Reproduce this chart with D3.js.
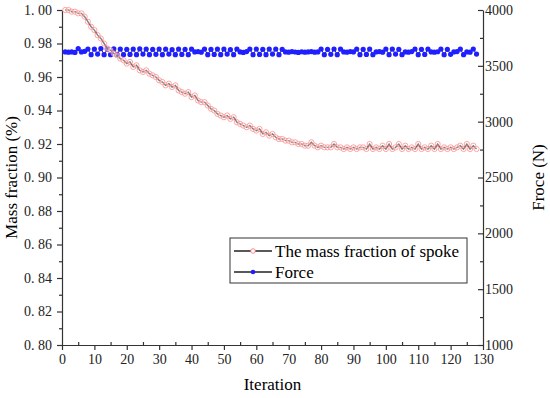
<!DOCTYPE html>
<html>
<head>
<meta charset="utf-8">
<script src="https://cdn.jsdelivr.net/npm/d3@7"></script>
<style>
  body { margin: 0; background: #fff; }
  svg { font-family: "Liberation Serif", "Times New Roman", serif; }
</style>
</head>
<body>
<div id="chart"></div>
<script>
// iterations 1..128
var iterations = d3.range(1, 129);

// mass fraction of spoke, one value per iteration
var massFraction = [
    1.000, 1.000, 0.999, 0.999, 0.998, 0.998, 0.996, 0.993, 0.990, 0.988,
    0.985, 0.983, 0.980, 0.977, 0.976, 0.974, 0.973, 0.971, 0.970, 0.968,
    0.969, 0.966, 0.967, 0.964, 0.963, 0.964, 0.962, 0.961, 0.960, 0.958,
    0.957, 0.955, 0.956, 0.954, 0.955, 0.952, 0.951, 0.950, 0.951, 0.948,
    0.949, 0.946, 0.945, 0.945, 0.943, 0.941, 0.940, 0.938, 0.937, 0.936,
    0.937, 0.935, 0.936, 0.933, 0.932, 0.931, 0.930, 0.931, 0.929, 0.928,
    0.929, 0.926, 0.927, 0.925, 0.926, 0.924, 0.923, 0.923, 0.922, 0.922,
    0.921, 0.921, 0.920, 0.920, 0.919, 0.919, 0.921, 0.919, 0.918, 0.919,
    0.918, 0.918, 0.918, 0.920, 0.918, 0.918, 0.917, 0.918, 0.917, 0.918,
    0.917, 0.918, 0.918, 0.917, 0.920, 0.917, 0.918, 0.917, 0.919, 0.917,
    0.920, 0.917, 0.918, 0.920, 0.917, 0.919, 0.917, 0.918, 0.917, 0.920,
    0.917, 0.918, 0.917, 0.919, 0.917, 0.920, 0.917, 0.918, 0.917, 0.918,
    0.917, 0.918, 0.919, 0.917, 0.920, 0.917, 0.919, 0.917
];

// force (N), one value per iteration
var force = [
    3625, 3622, 3625, 3620, 3655, 3625, 3630, 3650, 3600, 3650,
    3605, 3655, 3600, 3650, 3600, 3652, 3602, 3650, 3600, 3648,
    3602, 3650, 3600, 3652, 3605, 3650, 3600, 3648, 3603, 3650,
    3600, 3650, 3605, 3645, 3600, 3650, 3602, 3648, 3600, 3650,
    3625, 3628, 3622, 3650, 3600, 3648, 3602, 3650, 3600, 3650,
    3605, 3645, 3600, 3650, 3625, 3620, 3628, 3650, 3600, 3650,
    3602, 3648, 3600, 3650, 3605, 3650, 3600, 3648, 3625, 3622,
    3628, 3624, 3620, 3626, 3622, 3625, 3628, 3622, 3625, 3650,
    3600, 3648, 3603, 3650, 3600, 3650, 3625, 3622, 3628, 3625,
    3650, 3600, 3648, 3602, 3650, 3600, 3625, 3628, 3622, 3650,
    3600, 3650, 3605, 3648, 3600, 3625, 3622, 3628, 3650, 3600,
    3648, 3602, 3650, 3625, 3622, 3626, 3650, 3600, 3648, 3603,
    3625, 3628, 3650, 3600, 3625, 3622, 3650, 3605
];

var xTicks = d3.range(0, 131, 10);
var yLeftTicks = [0.80, 0.82, 0.84, 0.86, 0.88, 0.90, 0.92, 0.94, 0.96, 0.98, 1.00];
var yRightTicks = [1000, 1500, 2000, 2500, 3000, 3500, 4000];

var legendLabels = ["The mass fraction of spoke", "Force"];

var w = 550, h = 398;
var mLeft = 62, mRight = 483, mTop = 10, mBottom = 345;

var svg = d3.select("#chart")
    .append("svg")
    .attr("width", w)
    .attr("height", h);

var x = d3.scaleLinear().domain([0, 130]).range([mLeft, mRight]);
var yL = d3.scaleLinear().domain([0.80, 1.00]).range([mBottom, mTop]);
var yR = d3.scaleLinear().domain([1000, 4000]).range([mBottom, mTop]);

// labels like "0. 80"
var fmtL = function(d) { return d3.format(".2f")(d).replace(".", ".\u00a0"); };

// minor ticks
svg.append("g")
    .attr("class", "minor")
    .attr("transform", "translate(0," + mBottom + ")")
    .call(d3.axisBottom(x).tickValues(d3.range(5, 130, 10)).tickSize(-3).tickFormat(""))
    .call(function(g) { g.select(".domain").remove(); });
svg.append("g")
    .attr("class", "minor")
    .attr("transform", "translate(" + mLeft + ",0)")
    .call(d3.axisLeft(yL).tickValues([0.81, 0.83, 0.85, 0.87, 0.89, 0.91, 0.93, 0.95, 0.97, 0.99]).tickSize(3).tickFormat(""))
    .call(function(g) { g.select(".domain").remove(); });
svg.append("g")
    .attr("class", "minor")
    .attr("transform", "translate(" + mRight + ",0)")
    .call(d3.axisRight(yR).tickValues([1250, 1750, 2250, 2750, 3250, 3750]).tickSize(-3).tickFormat(""))
    .call(function(g) { g.select(".domain").remove(); });

// major axes
svg.append("g")
    .attr("class", "axis")
    .attr("transform", "translate(0," + mBottom + ")")
    .call(d3.axisBottom(x).tickValues(xTicks).tickSize(5).tickSizeOuter(0).tickPadding(4));

svg.append("g")
    .attr("class", "axis")
    .attr("transform", "translate(" + mLeft + ",0)")
    .call(d3.axisLeft(yL).tickValues(yLeftTicks).tickFormat(fmtL).tickSize(5).tickSizeOuter(0).tickPadding(5));

svg.append("g")
    .attr("class", "axis")
    .attr("transform", "translate(" + mRight + ",0)")
    .call(d3.axisRight(yR).tickValues(yRightTicks).tickFormat(d3.format("d")).tickSize(-5).tickSizeOuter(0).tickPadding(2));

svg.selectAll(".axis, .minor")
    .attr("font-family", null)
    .attr("font-size", null);
svg.selectAll(".axis text")
    .style("font-size", "14px")
    .style("font-family", "'Liberation Serif', 'Times New Roman', serif")
    .attr("fill", "#222");
svg.selectAll(".axis line, .minor line, .axis .domain")
    .attr("stroke", "#333")
    .attr("stroke-width", 1.2);

// force series
var forceData = iterations.map(function(it, i) { return { it: it, v: force[i] }; });
svg.append("path")
    .datum(forceData)
    .attr("fill", "none")
    .attr("stroke", "#333")
    .attr("stroke-width", 1)
    .attr("d", d3.line().x(function(d) { return x(d.it); }).y(function(d) { return yR(d.v); }));
svg.selectAll(".fdot")
    .data(forceData)
    .enter()
    .append("circle")
    .attr("class", "fdot")
    .attr("cx", function(d) { return x(d.it); })
    .attr("cy", function(d) { return yR(d.v); })
    .attr("r", 2.6)
    .attr("fill", "#1f1fff");

// mass fraction series
var massData = iterations.map(function(it, i) { return { it: it, v: massFraction[i] }; });
svg.append("path")
    .datum(massData)
    .attr("fill", "none")
    .attr("stroke", "#000")
    .attr("stroke-width", 1.4)
    .attr("d", d3.line().x(function(d) { return x(d.it); }).y(function(d) { return yL(d.v); }));
svg.selectAll(".mdot")
    .data(massData)
    .enter()
    .append("circle")
    .attr("class", "mdot")
    .attr("cx", function(d) { return x(d.it); })
    .attr("cy", function(d) { return yL(d.v); })
    .attr("r", 2.6)
    .attr("fill", "#fff")
    .attr("fill-opacity", 0.5)
    .attr("stroke", "#ff8080")
    .attr("stroke-width", 0.7);

// axis titles
svg.append("text")
    .attr("x", (mLeft + mRight) / 2)
    .attr("y", 390)
    .attr("text-anchor", "middle")
    .attr("font-size", "17px")
    .text("Iteration");
svg.append("text")
    .attr("transform", "translate(17," + ((mTop + mBottom) / 2) + ") rotate(-90)")
    .attr("text-anchor", "middle")
    .attr("font-size", "17px")
    .text("Mass fraction (%)");
svg.append("text")
    .attr("transform", "translate(544," + ((mTop + mBottom) / 2) + ") rotate(-90)")
    .attr("text-anchor", "middle")
    .attr("font-size", "17px")
    .text("Froce (N)");

// legend
var lg = svg.append("g").attr("transform", "translate(230,238)");
lg.append("rect")
    .attr("width", 237)
    .attr("height", 45)
    .attr("fill", "#fff")
    .attr("stroke", "#333")
    .attr("stroke-width", 1);
lg.selectAll(".lline")
    .data(legendLabels)
    .enter()
    .append("line")
    .attr("x1", 4).attr("x2", 42)
    .attr("y1", function(d, i) { return 13 + i * 21; })
    .attr("y2", function(d, i) { return 13 + i * 21; })
    .attr("stroke", "#222")
    .attr("stroke-width", 1.3);
lg.append("circle")
    .attr("cx", 23).attr("cy", 13).attr("r", 2.3)
    .attr("fill", "#fff").attr("stroke", "#ff7070").attr("stroke-width", 0.8);
lg.append("circle")
    .attr("cx", 23).attr("cy", 34).attr("r", 2.3)
    .attr("fill", "#1f1fff");
lg.selectAll(".ltext")
    .data(legendLabels)
    .enter()
    .append("text")
    .attr("x", 45)
    .attr("y", function(d, i) { return 19 + i * 21; })
    .attr("font-size", "17px")
    .text(function(d) { return d; });
</script>
</body>
</html>
